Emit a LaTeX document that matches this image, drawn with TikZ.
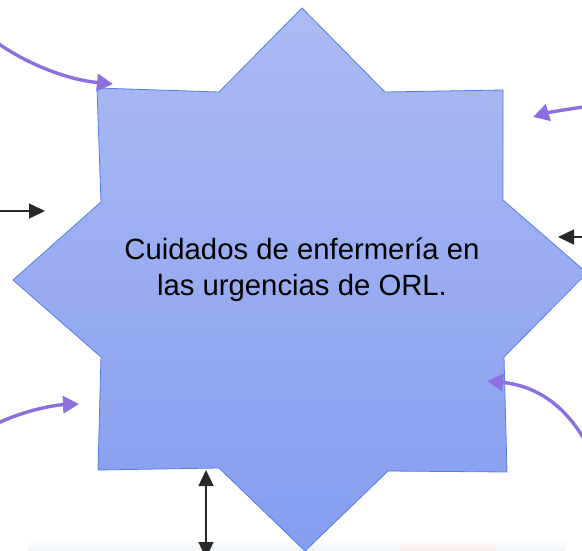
\documentclass[tikz,border=0pt]{standalone}
\usepackage{fontspec}
\setmainfont{Liberation Sans}
\usetikzlibrary{arrows.meta}
\definecolor{starTop}{RGB}{172,187,243}
\definecolor{starBot}{RGB}{134,157,240}
\definecolor{starLine}{RGB}{85,125,232}
\definecolor{purp}{RGB}{140,112,224}
\definecolor{darkline}{RGB}{40,40,40}
\tikzset{
  purparrow/.style={draw=purp, line width=3.4pt, -{Triangle[length=16pt,width=17pt]}},
  blackarrow/.style={draw=darkline, line width=1.4pt, -{Triangle[length=16pt,width=15pt]}},
  dblarrow/.style={draw=darkline, line width=1.4pt, {Triangle[length=16pt,width=15pt]}-{Triangle[length=16pt,width=15pt]}},
  startext/.style={font=\fontsize{29.3}{36}\selectfont, align=center, text=black}
}
\begin{document}
\begin{tikzpicture}[x=1pt,y=-1pt]
\useasboundingbox (0,0) rectangle (582,551);
\begin{scope}
\clip (0,0) rectangle (582,551);
% faint photo strip at bottom
\shade[top color=white, bottom color={rgb,255:red,240;green,244;blue,247}] (28,538) rectangle (565,551);
\shade[top color=white, bottom color={rgb,255:red,248;green,238;blue,232}] (400,540) rectangle (495,551);
% star
\shadedraw[top color=starTop, bottom color=starBot, draw=starLine, line width=0.8pt]
  (302,8) -- (385,92) -- (503,90) -- (503,200) -- (587,273) -- (504,357)
  -- (507,472) -- (388,471) -- (305,551) -- (219,468) -- (98,470)
  -- (101,357) -- (13,280) -- (101,202) -- (97,88) -- (219,92) -- cycle;
\node[startext] (t) at (302,270) {Cuidados de enfermería en\\las urgencias de ORL.};
% coordinates for connectors
\coordinate (a1s) at (-4,42);
\coordinate (a1e) at (113,84);
\coordinate (a2s) at (590,106);
\coordinate (a2e) at (533,117);
\coordinate (a3s) at (-4,424);
\coordinate (a3e) at (79,404);
\coordinate (a4s) at (590,450);
\coordinate (a4e) at (487,381);
\coordinate (b1s) at (-4,211);
\coordinate (b1e) at (45,211);
\coordinate (b2s) at (590,237);
\coordinate (b2e) at (558,237);
\coordinate (b3s) at (206,470);
\coordinate (b3e) at (206,558);
% purple arrows
\draw[purparrow] (a1s) .. controls (30,66) and (70,80) .. (a1e);
\draw[purparrow] (a2s) .. controls (570,109) and (550,112) .. (a2e);
\draw[purparrow] (a3s) .. controls (25,410) and (55,405) .. (a3e);
\draw[purparrow] (a4s) .. controls (565,400) and (530,385) .. (a4e);
% black arrows
\draw[blackarrow] (b1s) -- (b1e);
\draw[blackarrow] (b2s) -- (b2e);
\draw[dblarrow] (b3s) -- (b3e);
\end{scope}
\end{tikzpicture}
\end{document}
